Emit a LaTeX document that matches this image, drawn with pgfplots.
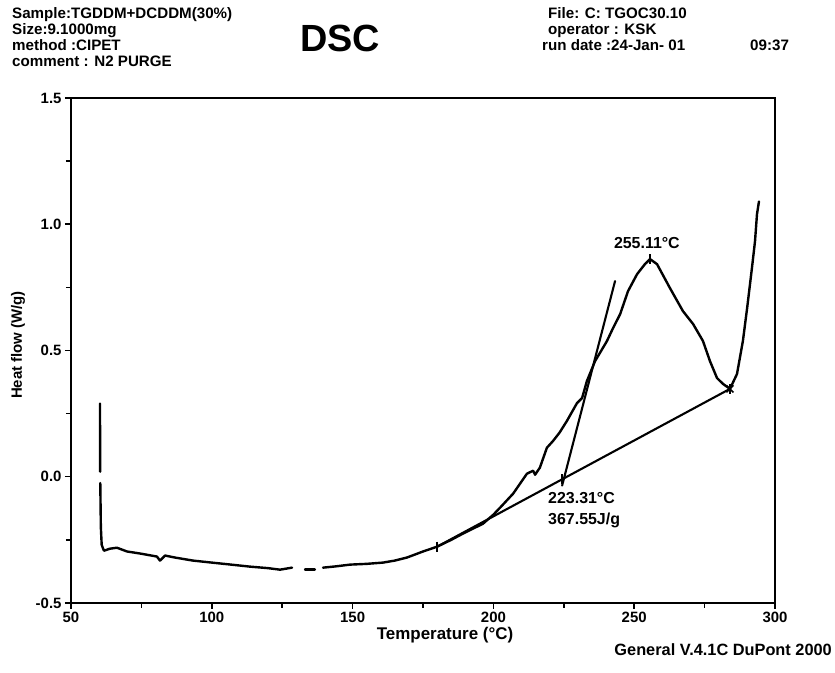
\documentclass[border=0pt]{standalone}
\usepackage{fontspec}
\setmainfont{Liberation Sans}
\usepackage{pgfplots}
\pgfplotsset{compat=1.18}
\begin{document}
\begin{tikzpicture}[x=1bp,y=1bp,font=\bfseries]
\path[use as bounding box] (-71,-70) rectangle (764,603);
\begin{axis}[at={(0,0)}, anchor=south west, scale only axis, width=704bp, height=505bp,
 xmin=50,xmax=300,ymin=-0.5,ymax=1.5,
 xtick={50,100,150,200,250,300},
 ytick={-0.5,0,0.5,1,1.5}, yticklabels={-0.5,0.0,0.5,1.0,1.5},
 minor x tick num=1, minor y tick num=1,
 tick align=outside, xtick pos=bottom, ytick pos=left,
 major tick length=6bp, minor tick length=5bp,
 axis line style={line width=1.8bp},
 every tick/.style={line width=1.5bp,black},
 ticklabel style={font=\fontsize{15}{17}\selectfont\bfseries},
 /pgf/number format/assume math mode=true,
 clip=false,
 curve/.style={black, line width=2.4bp, line join=round, line cap=round, mark=none},
]
\addplot[curve] coordinates {(60.3,0.29)(60.35,0.02)};
\addplot[curve] coordinates {(60.4,-0.025)(60.6,-0.2)(60.9,-0.27)(61.7,-0.293)(63.8,-0.285)(66.3,-0.281)(69.9,-0.296)(74.5,-0.304)(80.5,-0.316)(81.6,-0.332)(83.4,-0.312)(86.9,-0.320)(93.3,-0.332)(100,-0.34)(106,-0.347)(113.6,-0.356)(120,-0.362)(124.2,-0.368)(128.5,-0.360)};
\addplot[curve] coordinates {(133.1,-0.368)(136.6,-0.368)};
\addplot[curve] coordinates {(139.5,-0.360)(144,-0.355)(149.1,-0.348)(155,-0.345)(160.8,-0.340)(165,-0.332)(169.3,-0.320)(175,-0.296)(180,-0.277)(185,-0.25)(189.2,-0.225)(196.3,-0.186)(200,-0.15)(203,-0.115)(207,-0.067)(211.9,0.012)(214.1,0.024)(214.8,0.008)(216.5,0.036)(219,0.115)(221.2,0.142)(223.5,0.175)(226.1,0.221)(229.7,0.292)(231.5,0.312)(233.2,0.379)(236.1,0.458)(240.3,0.537)(242.5,0.589)(245,0.644)(247.8,0.735)(251,0.802)(253.8,0.842)(255.6,0.862)(258.1,0.842)(262.7,0.747)(267.3,0.656)(270.9,0.605)(274.4,0.538)(276.9,0.458)(279.4,0.391)(281.5,0.368)(284,0.348)(286.5,0.407)(288.6,0.538)(290.1,0.668)(291.8,0.826)(292.9,0.933)(293.6,1.04)(294.3,1.09)};
\addplot[curve, line width=2.1bp] coordinates {(180,-0.277)(284,0.348)};
\addplot[curve, line width=2.1bp] coordinates {(224.4,-0.035)(243.2,0.775)};
\addplot[only marks, mark=|, mark size=5bp, mark options={line width=1.6bp, black}] coordinates {(180,-0.277)(224.4,-0.01)(255.6,0.862)(284,0.348)};
\addplot[only marks, mark=x, mark size=5bp, mark options={line width=1.6bp, black}] coordinates {(284,0.348)};
\node[anchor=base, font=\fontsize{16}{18}\selectfont\bfseries] at (axis cs:254.5,0.905) {255.11°C};
\node[anchor=base west, inner sep=0pt, font=\fontsize{16}{18}\selectfont\bfseries] at (axis cs:219.4,-0.107) {223.31°C};
\node[anchor=base west, inner sep=0pt, font=\fontsize{16}{18}\selectfont\bfseries] at (axis cs:219.4,-0.19) {367.55J/g};
\end{axis}
\begin{scope}[every node/.style={inner sep=0pt, font=\fontsize{15.2}{17}\selectfont\bfseries}]
\node[anchor=base west] at (-59,584) {Sample:TGDDM+DCDDM(30\%)};
\node[anchor=base west] at (-59,568) {Size:9.1000mg};
\node[anchor=base west] at (-59,552) {method :CIPET};
\node[anchor=base west] at (-59,536) {comment : N2 PURGE};
\node[anchor=base west] at (477,584) {File: C: TGOC30.10};
\node[anchor=base west] at (477,568) {operator : KSK};
\node[anchor=base west] at (471,552) {run date :24-Jan- 01};
\node[anchor=base west] at (679,552) {09:37};
\node[anchor=base, font=\fontsize{38}{42}\selectfont\bfseries] at (269,551) {DSC};
\node[anchor=base, font=\fontsize{17}{20}\selectfont\bfseries] at (374,-37) {Temperature (°C)};
\node[anchor=base east, font=\fontsize{16.4}{19}\selectfont\bfseries] at (761,-53) {General V.4.1C DuPont 2000};
\node[rotate=90, font=\fontsize{15}{18}\selectfont\bfseries] at (-53,258) {Heat flow (W/g)};
\end{scope}
\end{tikzpicture}
\end{document}
